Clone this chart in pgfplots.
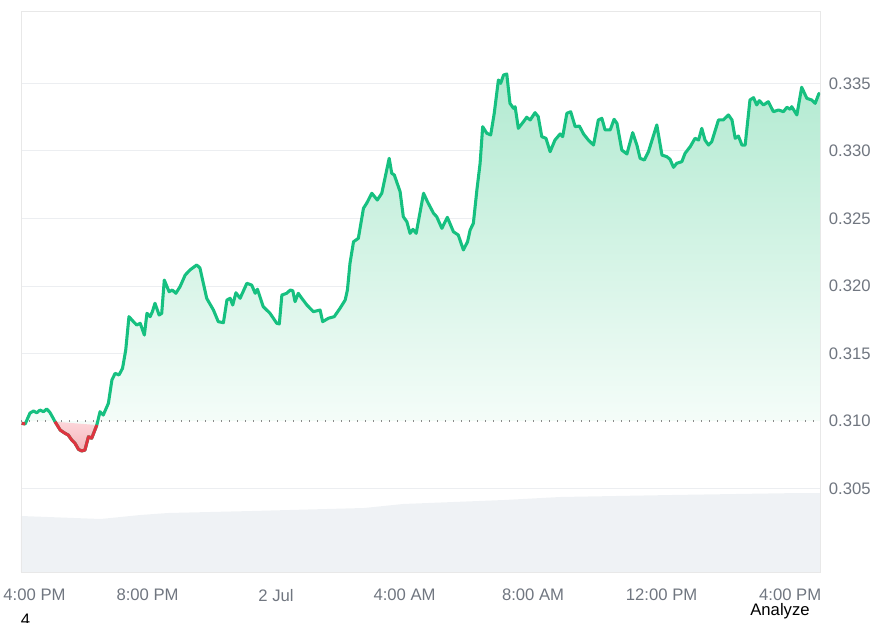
\documentclass[border=0pt]{standalone}
\usepackage{fontspec}
\setmainfont{Liberation Sans}
\usepackage{pgfplots}
\pgfplotsset{compat=1.18}
\usepackage{pgfplotstable}

\definecolor{upgreen}{RGB}{22,192,128}
\definecolor{downred}{RGB}{222,52,64}
\definecolor{volgray}{RGB}{239,242,245}
\definecolor{ticklab}{RGB}{112,118,128}
\definecolor{gridc}{RGB}{236,238,241}
\definecolor{gfilltop}{RGB}{178,234,209}
\definecolor{gfillbot}{RGB}{250,254,252}
\definecolor{rfilltop}{RGB}{252,214,218}
\definecolor{rfillbot}{RGB}{246,180,186}

% hours after 4:00 PM (1 Jul), price
\pgfplotstableread{
h v
0.08 0.30983
0.19 0.30978
0.34 0.31059
0.45 0.31074
0.55 0.31061
0.65 0.31081
0.76 0.31069
0.86 0.31089
0.96 0.31064
1.12 0.30995
1.28 0.30933
1.43 0.30909
1.53 0.30896
1.64 0.30859
1.74 0.30835
1.85 0.30790
1.95 0.30778
2.05 0.30785
2.16 0.30884
2.26 0.30872
2.42 0.30970
2.52 0.31069
2.62 0.31044
2.78 0.31131
2.89 0.31304
2.99 0.31353
3.11 0.31341
3.22 0.31390
3.32 0.31526
3.42 0.31773
3.56 0.31736
3.66 0.31711
3.77 0.31724
3.90 0.31637
3.98 0.31798
4.08 0.31773
4.15 0.31810
4.23 0.31872
4.36 0.31785
4.44 0.31798
4.52 0.32044
4.67 0.31958
4.77 0.31970
4.88 0.31946
5.01 0.31995
5.17 0.32081
5.32 0.32119
5.53 0.32156
5.63 0.32133
5.84 0.31909
6.05 0.31822
6.20 0.31736
6.36 0.31728
6.47 0.31896
6.57 0.31909
6.65 0.31859
6.75 0.31950
6.88 0.31909
7.09 0.32020
7.24 0.32007
7.35 0.31946
7.42 0.31976
7.60 0.31847
7.81 0.31798
8.02 0.31724
8.10 0.31719
8.18 0.31933
8.33 0.31946
8.44 0.31970
8.52 0.31965
8.59 0.31884
8.69 0.31946
8.80 0.31909
8.96 0.31859
9.16 0.31810
9.37 0.31822
9.45 0.31736
9.63 0.31761
9.81 0.31773
9.99 0.31835
10.15 0.31896
10.22 0.31970
10.30 0.32168
10.41 0.32328
10.56 0.32353
10.72 0.32576
10.82 0.32613
10.98 0.32687
11.15 0.32637
11.29 0.32687
11.52 0.32946
11.60 0.32835
11.68 0.32822
11.86 0.32699
11.96 0.32513
12.07 0.32476
12.17 0.32390
12.26 0.32420
12.36 0.32390
12.59 0.32687
12.71 0.32625
12.90 0.32539
13.00 0.32513
13.16 0.32427
13.33 0.32509
13.52 0.32402
13.67 0.32378
13.83 0.32267
13.96 0.32328
14.04 0.32415
14.14 0.32464
14.25 0.32711
14.35 0.32909
14.43 0.33180
14.56 0.33131
14.68 0.33119
14.79 0.33279
14.92 0.33526
14.99 0.33501
15.08 0.33563
15.18 0.33570
15.28 0.33353
15.39 0.33316
15.44 0.33328
15.54 0.33168
15.70 0.33217
15.80 0.33250
15.91 0.33230
16.06 0.33284
16.16 0.33254
16.27 0.33106
16.40 0.33094
16.53 0.32995
16.68 0.33081
16.84 0.33126
16.92 0.33106
17.05 0.33279
17.17 0.33291
17.31 0.33180
17.44 0.33185
17.57 0.33126
17.72 0.33081
17.88 0.33044
18.03 0.33230
18.14 0.33242
18.24 0.33156
18.40 0.33156
18.52 0.33235
18.61 0.33205
18.76 0.33007
18.92 0.32978
19.10 0.33136
19.23 0.33044
19.33 0.32946
19.46 0.32933
19.59 0.32995
19.85 0.33193
20.01 0.32970
20.16 0.32958
20.26 0.32939
20.37 0.32879
20.47 0.32909
20.63 0.32921
20.73 0.32983
20.89 0.33032
21.04 0.33094
21.15 0.33081
21.25 0.33168
21.35 0.33081
21.46 0.33044
21.56 0.33069
21.77 0.33230
21.92 0.33230
22.08 0.33267
22.19 0.33230
22.29 0.33094
22.39 0.33111
22.50 0.33044
22.60 0.33044
22.75 0.33378
22.86 0.33395
22.96 0.33341
23.04 0.33373
23.17 0.33341
23.32 0.33365
23.48 0.33291
23.64 0.33304
23.79 0.33291
23.90 0.33324
24.00 0.33309
24.05 0.33328
24.21 0.33267
24.36 0.33472
24.52 0.33390
24.67 0.33378
24.78 0.33353
24.89 0.33422
24.93 0.33430
}\price

% volume (arbitrary units)
\pgfplotstableread{
h vol
0.06 5.6
2.54 5.3
3.77 5.7
4.64 5.9
7.25 6.1
10.74 6.4
11.95 6.8
15.10 7.2
16.84 7.5
20.31 7.7
24.31 7.9
24.93 7.9
}\volume

\begin{document}
\begin{tikzpicture}[x=1pt,y=1pt]
\path (0,0) rectangle (657.75,466.5);

% volume layer
\begin{axis}[at={(15.75pt,37.5pt)}, anchor=south west, scale only axis,
  width=599.25pt, height=420pt,
  xmin=0.06, xmax=24.93, ymin=0, ymax=56,
  axis lines=none, ticks=none]
\addplot[fill=volgray, draw=none] table[x=h,y=vol]{\volume} \closedcycle;
\end{axis}

% price layer
\begin{axis}[at={(15.75pt,37.5pt)}, anchor=south west, scale only axis,
  width=599.25pt, height=420pt,
  xmin=0.06, xmax=24.93, ymin=0.298815, ymax=0.340296,
  axis line style={draw=black!9, line width=0.75pt},
  ytick={0.305,0.315,0.320,0.325,0.330,0.335},
  extra y ticks={0.310}, extra y tick style={grid=none},
  ymajorgrids, grid style={draw=gridc, line width=0.75pt},
  yticklabel pos=right,
  scaled y ticks=false,
  major tick length=0pt, tick style={draw=none},
  /pgf/number format/assume math mode=true,
  yticklabel style={anchor=west, inner sep=0pt, xshift=6.5pt,
    font=\fontsize{12.5}{14}\selectfont, text=ticklab,
    /pgf/number format/fixed, /pgf/number format/fixed zerofill,
    /pgf/number format/precision=3},
  xtick={4,8,12,16,20,24},
  xticklabels={8:00 PM, 2 Jul, 4:00 AM, 8:00 AM, 12:00 PM, 4:00 PM},
  extra x ticks={0.48}, extra x tick labels={4:00 PM},
  xticklabel style={anchor=north, inner sep=0pt, yshift=-12.75pt,
    font=\fontsize{12.5}{14}\selectfont, text=ticklab},
]
% gradient area between the price and the 0.310 baseline
\addplot[draw=none, top color=gfilltop, bottom color=gfillbot]
  table[x=h,y=v]{\price} -- (axis cs:24.93,0.310) -- (axis cs:0.08,0.310) -- cycle;
% red area where the price is below the baseline
\addplot[draw=none, top color=rfilltop, bottom color=rfillbot,
  skip coords between index={0}{9}, skip coords between index={21}{400}]
  table[x=h,y=v]{\price} -- cycle;
\addplot[draw=black!45, line width=1pt, dash pattern=on 1pt off 5pt]
  coordinates {(0.06,0.310) (24.93,0.310)};
\addplot[draw=upgreen, line width=2.3pt, line join=round] table[x=h,y=v]{\price};
\addplot[draw=downred, line width=2.3pt, line join=round,
  skip coords between index={0}{9}, skip coords between index={21}{400}]
  table[x=h,y=v]{\price};
\addplot[draw=downred, line width=2.3pt, line join=round,
  skip coords between index={2}{400}]
  table[x=h,y=v]{\price};
\end{axis}

\node[font=\fontsize{12.5}{14}\selectfont, text=black, inner sep=0pt] at (585,8.25) {Analyze};
\begin{scope}
\clip (0,0) rectangle (40,20);
\node[font=\fontsize{12.5}{14}\selectfont, text=black, inner sep=0pt] at (19.1,1.5) {4};
\end{scope}
\end{tikzpicture}
\end{document}
